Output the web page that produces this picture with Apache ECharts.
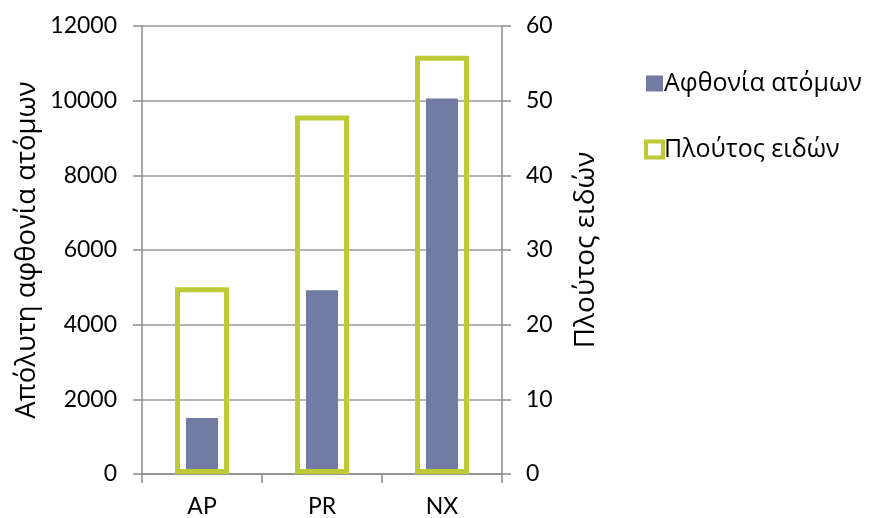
<!DOCTYPE html>
<html>
<head>
<meta charset="utf-8">
<script src="https://cdn.jsdelivr.net/npm/echarts@6/dist/echarts.min.js"></script>
<style>
  html, body { margin: 0; padding: 0; background: #fff; }
  #chart { width: 874px; height: 518px; }
</style>
</head>
<body>
<div id="chart"></div>
<script>
// Sampling sites
const categories = ['AP', 'PR', 'NX'];
// Absolute abundance of individuals (left axis)
const abundance = [1500, 4920, 10060];
// Species richness (right axis)
const richness = [25, 48, 56];

const NUM_FONT = 'Lato, "Open Sans", sans-serif';
const GREEK_FONT = '"Open Sans", "Noto Sans", sans-serif';
const AXIS_GREY = '#8c8c8c';
const GRID_GREY = '#9a9a9a';
const BLUE = '#717ba3';
const GREEN = '#bfca37';

const chart = echarts.init(document.getElementById('chart'), null, { renderer: 'canvas' });

const numLabel = { color: '#000', fontSize: 23, fontFamily: NUM_FONT, formatter: v => String(v) };

chart.setOption({
  animation: false,
  backgroundColor: '#fff',
  grid: { left: 142, right: 372, top: 26, bottom: 43, containLabel: false },
  legend: {
    orient: 'vertical',
    left: 644,
    top: 71,
    padding: 0,
    itemWidth: 17,
    itemHeight: 16,
    itemGap: 41,
    textStyle: { fontSize: 25, fontFamily: GREEK_FONT, color: '#000', padding: [0, 0, 0, -4] },
    data: [
      { name: 'Αφθονία ατόμων', icon: 'rect', itemStyle: { color: BLUE, borderWidth: 0 } },
      { name: 'Πλούτος ειδών', icon: 'rect', itemStyle: { color: '#fff', borderColor: GREEN, borderWidth: 4 } }
    ]
  },
  xAxis: [
    {
      type: 'category',
      data: categories,
      axisLine: { lineStyle: { color: AXIS_GREY, width: 1.5 } },
      axisTick: { show: true, length: 9, lineStyle: { color: AXIS_GREY, width: 1.5 } },
      axisLabel: { margin: 21, fontSize: 23, color: '#000', fontFamily: NUM_FONT }
    },
    {
      type: 'category',
      data: categories,
      show: false,
      position: 'bottom'
    }
  ],
  yAxis: [
    {
      type: 'value',
      min: 0,
      max: 12000,
      interval: 2000,
      name: 'Απόλυτη αφθονία ατόμων',
      nameLocation: 'middle',
      nameGap: 101,
      nameTextStyle: { fontSize: 27.5, fontFamily: GREEK_FONT, color: '#000' },
      axisLine: { show: true, lineStyle: { color: AXIS_GREY, width: 1.5 } },
      axisTick: { show: true, length: 9, lineStyle: { color: AXIS_GREY, width: 1.5 } },
      splitLine: { show: true, lineStyle: { color: GRID_GREY, width: 1.5 } },
      axisLabel: Object.assign({ margin: 25 }, numLabel)
    },
    {
      type: 'value',
      min: 0,
      max: 60,
      interval: 10,
      name: 'Πλούτος ειδών',
      nameLocation: 'middle',
      nameGap: 70,
      nameRotate: 90,
      nameTextStyle: { fontSize: 28, fontFamily: GREEK_FONT, color: '#000' },
      axisLine: { show: true, lineStyle: { color: AXIS_GREY, width: 1.5 } },
      axisTick: { show: true, length: 9, lineStyle: { color: AXIS_GREY, width: 1.5 } },
      splitLine: { show: false },
      axisLabel: Object.assign({ margin: 24 }, numLabel)
    }
  ],
  series: [
    {
      name: 'Αφθονία ατόμων',
      type: 'bar',
      xAxisIndex: 0,
      yAxisIndex: 0,
      data: abundance,
      barWidth: 32,
      itemStyle: { color: BLUE },
      z: 2
    },
    {
      name: 'Πλούτος ειδών',
      type: 'bar',
      xAxisIndex: 1,
      yAxisIndex: 1,
      data: richness,
      barWidth: 54,
      itemStyle: {
        color: 'rgba(0,0,0,0)',
        borderColor: GREEN,
        borderWidth: 5
      },
      z: 3
    }
  ]
});
</script>
</body>
</html>
